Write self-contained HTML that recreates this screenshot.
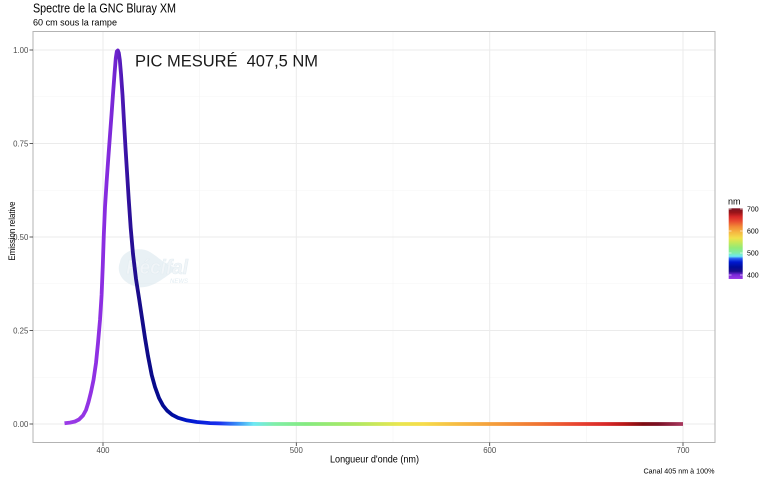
<!DOCTYPE html>
<html>
<head>
<meta charset="utf-8">
<style>
html,body{margin:0;padding:0;background:#fff;}
svg{display:block;}
text{font-family:"Liberation Sans",Arial,sans-serif;}
</style>
</head>
<body>
<svg width="768" height="480" viewBox="0 0 768 480" xmlns="http://www.w3.org/2000/svg">
<defs>
<linearGradient id="spec" gradientUnits="userSpaceOnUse" x1="64.3" y1="0" x2="683" y2="0">
<stop offset="0" stop-color="#9b3ce6"/>
<stop offset="0.0625" stop-color="#8c2ee2"/>
<stop offset="0.078" stop-color="#7a28d8"/>
<stop offset="0.0875" stop-color="#6420c6"/>
<stop offset="0.094" stop-color="#4c18b4"/>
<stop offset="0.103" stop-color="#30109c"/>
<stop offset="0.119" stop-color="#1a0c8a"/>
<stop offset="0.14" stop-color="#0a0a88"/>
<stop offset="0.172" stop-color="#000c9a"/>
<stop offset="0.203" stop-color="#0018d0"/>
<stop offset="0.25" stop-color="#1a30ee"/>
<stop offset="0.28" stop-color="#3a90f6"/>
<stop offset="0.306" stop-color="#6ee8f4"/>
<stop offset="0.34" stop-color="#80eea8"/>
<stop offset="0.39" stop-color="#84ea80"/>
<stop offset="0.47" stop-color="#aee862"/>
<stop offset="0.54" stop-color="#e8e650"/>
<stop offset="0.58" stop-color="#f6dc4a"/>
<stop offset="0.64" stop-color="#f6b842"/>
<stop offset="0.70" stop-color="#f49a3a"/>
<stop offset="0.765" stop-color="#f07432"/>
<stop offset="0.83" stop-color="#e84230"/>
<stop offset="0.875" stop-color="#d82828"/>
<stop offset="0.905" stop-color="#b81818"/>
<stop offset="0.935" stop-color="#7e0c12"/>
<stop offset="0.96" stop-color="#7a1024"/>
<stop offset="1" stop-color="#a8385e"/>
</linearGradient>
<linearGradient id="bar" x1="0" y1="1" x2="0" y2="0">
<stop offset="0" stop-color="#9b3ce6"/>
<stop offset="0.06" stop-color="#7a28d8"/>
<stop offset="0.11" stop-color="#1a0c8a"/>
<stop offset="0.17" stop-color="#000c9a"/>
<stop offset="0.24" stop-color="#0018d0"/>
<stop offset="0.29" stop-color="#2a60f2"/>
<stop offset="0.32" stop-color="#6ee8f4"/>
<stop offset="0.37" stop-color="#80eea8"/>
<stop offset="0.44" stop-color="#92ea78"/>
<stop offset="0.52" stop-color="#c8e858"/>
<stop offset="0.58" stop-color="#f2e04c"/>
<stop offset="0.66" stop-color="#f6b842"/>
<stop offset="0.74" stop-color="#f28a36"/>
<stop offset="0.82" stop-color="#e84a30"/>
<stop offset="0.88" stop-color="#d82828"/>
<stop offset="0.94" stop-color="#9a1418"/>
<stop offset="1" stop-color="#7a1424"/>
</linearGradient>
</defs>

<!-- title -->
<text x="33" y="12.5" font-size="12.5" fill="#000" textLength="143" lengthAdjust="spacingAndGlyphs">Spectre de la GNC Bluray XM</text>
<text x="33" y="25.5" font-size="9.5" fill="#000" textLength="84" lengthAdjust="spacingAndGlyphs">60 cm sous la rampe</text>

<!-- panel gridlines minor -->
<g stroke="#f4f4f4" stroke-width="0.6">
<line x1="33" x2="715" y1="377.25" y2="377.25"/>
<line x1="33" x2="715" y1="283.75" y2="283.75"/>
<line x1="33" x2="715" y1="190.25" y2="190.25"/>
<line x1="33" x2="715" y1="96.75" y2="96.75"/>
<line x1="199.7" x2="199.7" y1="31.5" y2="442.5"/>
<line x1="393" x2="393" y1="31.5" y2="442.5"/>
<line x1="586.3" x2="586.3" y1="31.5" y2="442.5"/>
</g>
<g stroke="#ebebeb" stroke-width="1">
<line x1="33" x2="715" y1="424" y2="424"/>
<line x1="33" x2="715" y1="330.5" y2="330.5"/>
<line x1="33" x2="715" y1="237" y2="237"/>
<line x1="33" x2="715" y1="143.5" y2="143.5"/>
<line x1="33" x2="715" y1="50" y2="50"/>
<line x1="103" x2="103" y1="31.5" y2="442.5"/>
<line x1="296.3" x2="296.3" y1="31.5" y2="442.5"/>
<line x1="489.7" x2="489.7" y1="31.5" y2="442.5"/>
<line x1="683" x2="683" y1="31.5" y2="442.5"/>
</g>

<!-- watermark -->
<g opacity="0.6">
<path d="M120 262 C 122 250, 140 246, 150 252 C 160 258, 166 266, 178 268 C 166 276, 150 292, 134 286 C 122 282, 116 272, 120 262 Z" fill="#dbe8ef"/>
<text x="126" y="274" font-size="20" font-weight="bold" font-style="italic" fill="#e8f0f4" stroke="#d2e2ea" stroke-width="0.6" textLength="62" lengthAdjust="spacingAndGlyphs">Récifal</text>
<text x="170" y="283" font-size="6" font-style="italic" fill="#cfe0ea">NEWS</text>
</g>

<!-- spectrum curve -->
<path fill="none" stroke="url(#spec)" stroke-width="3.8" stroke-linejoin="round" stroke-linecap="butt"
d="M64.5 423.3 L70 422.6 L75 421.5 L79 419.5 L83 415.5 L86 410 L88.5 402 L91 392 L93.5 380 L96 363 L98 343 L100 320 L101.6 295 L102.8 265 L103.8 235 L105 207 L106.6 182 L108.3 158 L110 135 L111.5 115 L113 94 L114.5 74 L115.8 58 L116.8 51.5 L117.8 50.5 L118.8 53 L119.8 60 L121 74 L122.5 95 L124 122 L125.5 148 L127 172 L128.7 199 L130.7 228 L133 254 L136 279 L139.3 300 L142 318 L145 338 L148 356 L151.7 375 L155 387 L159 398 L163 405.5 L167 410.5 L172 414.7 L178 417.8 L187 420.4 L197 422 L210 423.1 L230 423.7 L260 424 L683 424"/>

<!-- panel border -->
<rect x="33" y="31.5" width="682" height="411" fill="none" stroke="#b3b3b3" stroke-width="1"/>

<!-- ticks -->
<g stroke="#333" stroke-width="0.8">
<line x1="29.5" x2="33" y1="424" y2="424"/>
<line x1="29.5" x2="33" y1="330.5" y2="330.5"/>
<line x1="29.5" x2="33" y1="237" y2="237"/>
<line x1="29.5" x2="33" y1="143.5" y2="143.5"/>
<line x1="29.5" x2="33" y1="50" y2="50"/>
<line x1="103" x2="103" y1="442.5" y2="446"/>
<line x1="296.3" x2="296.3" y1="442.5" y2="446"/>
<line x1="489.7" x2="489.7" y1="442.5" y2="446"/>
<line x1="683" x2="683" y1="442.5" y2="446"/>
</g>
<g font-size="7.8" fill="#4d4d4d" text-anchor="end">
<text x="28.3" y="426.8">0.00</text>
<text x="28.3" y="333.3">0.25</text>
<text x="28.3" y="239.8">0.50</text>
<text x="28.3" y="146.3">0.75</text>
<text x="28.3" y="52.8">1.00</text>
</g>
<g font-size="7.8" fill="#4d4d4d" text-anchor="middle">
<text x="103" y="453">400</text>
<text x="296.3" y="453">500</text>
<text x="489.7" y="453">600</text>
<text x="683" y="453">700</text>
</g>

<!-- axis titles -->
<text x="374.5" y="462.5" font-size="10" fill="#000" text-anchor="middle" textLength="89" lengthAdjust="spacingAndGlyphs">Longueur d'onde (nm)</text>
<text transform="translate(14.8,231) rotate(-90)" font-size="9.5" fill="#000" text-anchor="middle" textLength="59" lengthAdjust="spacingAndGlyphs">Emission relative</text>

<!-- annotation -->
<text x="135" y="66.5" font-size="16.5" fill="#1a1a1a" textLength="183" lengthAdjust="spacing">PIC MESURÉ&#160;&#160;407,5 NM</text>

<!-- legend -->
<text x="728" y="204.5" font-size="9" fill="#000">nm</text>
<rect x="728.7" y="208.3" width="14" height="70.7" fill="url(#bar)"/>
<g stroke="#fff" stroke-width="0.6">
<line x1="728.7" x2="731.5" y1="209" y2="209"/><line x1="740" x2="742.7" y1="209" y2="209"/>
<line x1="728.7" x2="731.5" y1="231" y2="231"/><line x1="740" x2="742.7" y1="231" y2="231"/>
<line x1="728.7" x2="731.5" y1="253" y2="253"/><line x1="740" x2="742.7" y1="253" y2="253"/>
<line x1="728.7" x2="731.5" y1="275" y2="275"/><line x1="740" x2="742.7" y1="275" y2="275"/>
</g>
<g font-size="7" fill="#000">
<text x="747" y="211.5">700</text>
<text x="747" y="233.5">600</text>
<text x="747" y="255.5">500</text>
<text x="747" y="277.5">400</text>
</g>

<!-- caption -->
<text x="714.5" y="473.5" font-size="7.6" fill="#000" text-anchor="end" textLength="71" lengthAdjust="spacingAndGlyphs">Canal 405 nm à 100%</text>
</svg>
</body>
</html>
